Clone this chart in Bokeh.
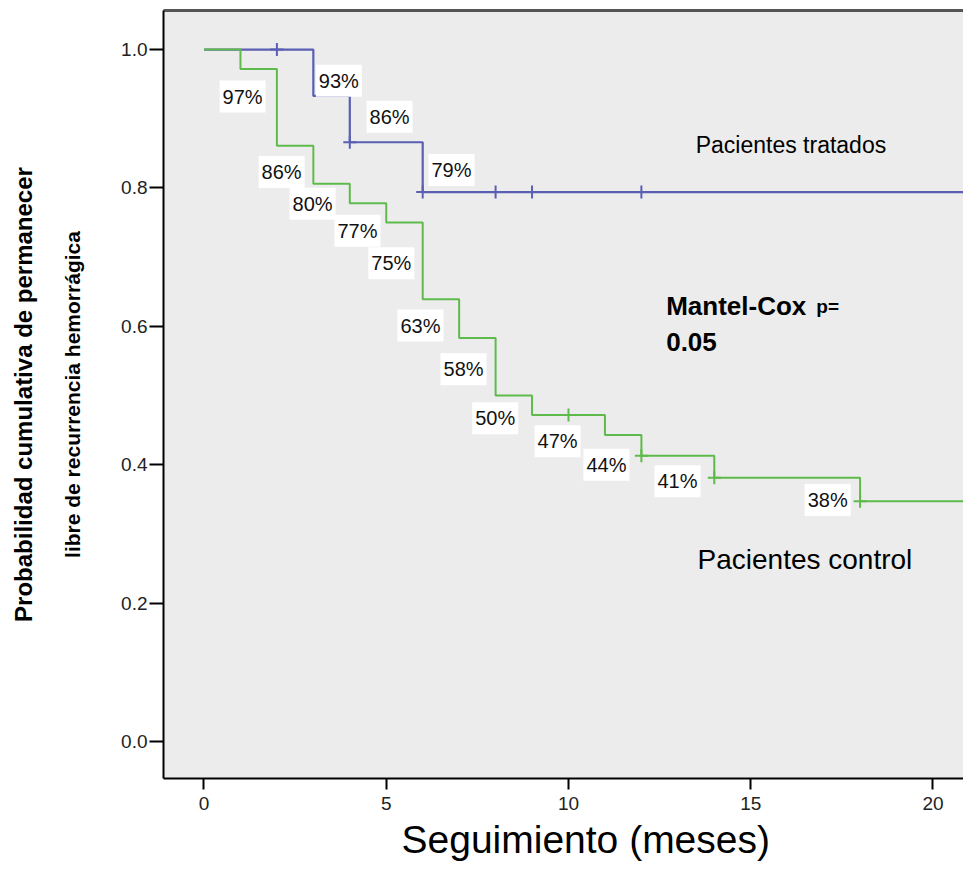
from bokeh.plotting import figure
from bokeh.models import (LinearAxis, FixedTicker, Label, Range1d, ColumnDataSource,
                          NumeralTickFormatter, Title)
from bokeh.embed import file_html
from bokeh.resources import INLINE
from bokeh.core.properties import value

# ---- data (Kaplan-Meier estimates) ----
treated_times = [0, 3, 4, 6]
treated_surv = [1.0, 0.933, 0.866, 0.794]
treated_censor_t = [2, 4, 6, 8, 9, 12]
treated_censor_s = [1.0, 0.866, 0.794, 0.794, 0.794, 0.794]

control_times = [0, 1, 2, 3, 4, 5, 6, 7, 8, 9, 11, 12, 14, 18]
control_surv = [1.0, 0.972, 0.861, 0.806, 0.778, 0.750, 0.639, 0.583,
                0.500, 0.472, 0.443, 0.413, 0.381, 0.347]
control_censor_t = [10, 12, 14, 18]
control_censor_s = [0.472, 0.413, 0.381, 0.347]

followup_end = 24

# percentage labels and where they sit (annotation placement)
pct_text = ["97%", "93%", "86%", "79%", "86%", "80%", "77%", "75%",
            "63%", "58%", "50%", "47%", "44%", "41%", "38%"]
pct_x = [1.06, 3.70, 5.09, 6.79, 2.13, 2.98, 4.21, 5.14,
         5.94, 7.12, 7.99, 9.70, 11.04, 12.99, 17.11]
pct_y = [0.932, 0.955, 0.903, 0.826, 0.823, 0.777, 0.738, 0.691,
         0.601, 0.538, 0.467, 0.434, 0.400, 0.376, 0.349]

x_ticks = [0, 5, 10, 15, 20]
y_ticks = [0.0, 0.2, 0.4, 0.6, 0.8, 1.0]

BLUE = "#5a5fb3"
GREEN = "#5fba4c"
BG = "#ececec"
FONT = "Liberation Sans"

p = figure(width=963, height=869, output_backend="svg", toolbar_location=None,
           x_range=Range1d(-1.111, 20.837), y_range=Range1d(-0.0535, 1.0564),
           min_border_left=163, min_border_right=0, min_border_top=10,
           min_border_bottom=91)
p.background_fill_color = BG
p.border_fill_color = "white"
p.outline_line_color = None
p.xgrid.visible = False
p.ygrid.visible = False

# step curves
tx = treated_times + [followup_end]
ty = treated_surv + [treated_surv[-1]]
cx = control_times + [followup_end]
cy = control_surv + [control_surv[-1]]
p.step(tx, ty, mode="after", line_color=BLUE, line_width=2.2)
p.step(cx, cy, mode="after", line_color=GREEN, line_width=2)

# censor marks
p.scatter(treated_censor_t, treated_censor_s, marker="cross", size=13,
          line_color=BLUE, line_width=2)
p.scatter(control_censor_t, control_censor_s, marker="cross", size=13,
          line_color=GREEN, line_width=2)

# percentage labels
src = ColumnDataSource(dict(x=pct_x, y=pct_y, t=pct_text))
p.text(x="x", y="y", text="t", source=src, text_align="center",
       text_baseline="middle", text_font=value(FONT), text_font_size="20px",
       text_color="#111111", background_fill_color="white",
       padding=dict(left=3, right=3, top=5, bottom=5))

# axes styling
xa = p.xaxis[0]
xa.ticker = FixedTicker(ticks=x_ticks)
xa.axis_line_width = 2
xa.axis_line_color = "black"
xa.major_tick_line_width = 2
xa.major_tick_out = 11
xa.major_tick_in = 0
xa.minor_tick_line_color = None
xa.major_label_text_font = FONT
xa.major_label_text_font_size = "19px"
xa.major_label_text_color = "#222222"
xa.major_label_standoff = 7

ya = p.yaxis[0]
ya.ticker = FixedTicker(ticks=y_ticks)
ya.axis_line_width = 2
ya.axis_line_color = "black"
ya.major_tick_line_width = 2
ya.major_tick_out = 14
ya.major_tick_in = 0
ya.minor_tick_line_color = None
ya.major_label_text_font = FONT
ya.major_label_text_font_size = "19px"
ya.major_label_text_color = "#222222"
ya.major_label_standoff = 2
ya.formatter = NumeralTickFormatter(format="0.0")
ya.axis_label = "libre de recurrencia hemorrágica"
ya.axis_label_text_font = FONT
ya.axis_label_text_font_size = "21px"
ya.axis_label_text_font_style = "bold"
ya.axis_label_text_color = "black"
ya.axis_label_standoff = 34

ya2 = LinearAxis(ticker=FixedTicker(ticks=[]), axis_line_color=None,
                 major_tick_line_color=None, minor_tick_line_color=None,
                 major_label_standoff=0,
                 axis_label="Probabilidad cumulativa de permanecer",
                 axis_label_text_font=FONT, axis_label_text_font_size="24px",
                 axis_label_text_font_style="bold",
                 axis_label_text_color="black", axis_label_standoff=22)
p.add_layout(ya2, "left")

top = LinearAxis(ticker=FixedTicker(ticks=[]), axis_line_width=3,
                 axis_line_color="#555555", major_tick_line_color=None,
                 minor_tick_line_color=None, major_label_standoff=0)
p.add_layout(top, "above")

xt = Title(text="Seguimiento (meses)", align="left", offset=238,
           text_font=FONT, text_font_size="39px", text_font_style="normal",
           text_color="black", standoff=7)
p.add_layout(xt, "below")

# text annotations inside the plot
def lab(text, x, y, size, bold=False):
    p.add_layout(Label(x=x, y=y, text=text, text_font=FONT,
                       text_font_size=size,
                       text_font_style="bold" if bold else "normal",
                       text_color="black", text_align="left",
                       text_baseline="alphabetic"))

lab("Pacientes tratados", 13.49, 0.862, "23px")
lab("Pacientes control", 13.54, 0.263, "28px")
lab("Mantel-Cox", 12.68, 0.629, "26px", bold=True)
lab("p=", 16.80, 0.629, "19px", bold=True)
lab("0.05", 12.68, 0.577, "26px", bold=True)

open("out.html", "w").write(file_html(p, INLINE))
